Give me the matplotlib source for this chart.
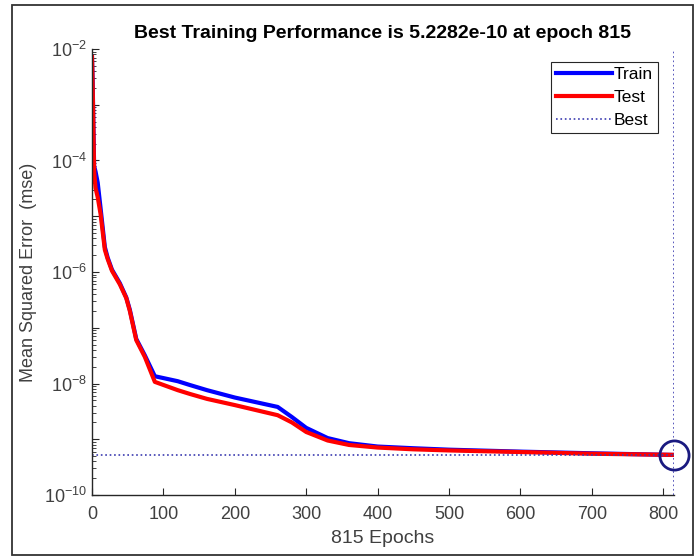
import math
import matplotlib
matplotlib.use("Agg")
import matplotlib.pyplot as plt
from matplotlib.patches import Rectangle
from matplotlib.ticker import LogLocator, FixedLocator, FuncFormatter, NullFormatter

plt.rcParams["font.family"] = ["Liberation Sans", "DejaVu Sans"]
plt.rcParams["mathtext.default"] = "regular"

# training record (mse per epoch, sampled)
epochs = [0, 1, 2, 3, 5, 8, 12, 18, 22, 28, 39, 48, 53, 62, 74, 88, 120, 137,
          161, 200, 260, 280, 300, 330, 360, 400, 450, 500, 600, 700, 815]
train_mse = [7.2e-3, 2.5e-3, 4.0e-4, 7.9e-5, 6.3e-5, 4.0e-5, 1.4e-5, 2.8e-6,
             1.8e-6, 1.1e-6, 6.3e-7, 3.5e-7, 2.1e-7, 6.3e-8, 3.2e-8, 1.35e-8,
             1.1e-8, 9.4e-9, 7.6e-9, 5.6e-9, 3.8e-9, 2.5e-9, 1.6e-9, 1.05e-9,
             8.5e-10, 7.4e-10, 6.9e-10, 6.5e-10, 6.0e-10, 5.6e-10, 5.2282e-10]
test_mse = [7.2e-3, 2.0e-3, 3.2e-4, 6.3e-5, 3.2e-5, 2.2e-5, 1.1e-5, 2.5e-6,
            1.7e-6, 1.05e-6, 6.0e-7, 3.4e-7, 2.0e-7, 6.0e-8, 3.0e-8, 1.07e-8,
            7.6e-9, 6.5e-9, 5.3e-9, 4.1e-9, 2.7e-9, 2.0e-9, 1.35e-9, 9.5e-10,
            7.9e-10, 7.1e-10, 6.6e-10, 6.3e-10, 5.9e-10, 5.5e-10, 5.25e-10]

best_epoch = 815
best_perf = 5.2282e-10
x_ticks = [0, 100, 200, 300, 400, 500, 600, 700, 800]
y_labeled = [1e-10, 1e-8, 1e-6, 1e-4, 1e-2]

fig = plt.figure(figsize=(6.99, 5.56), dpi=100)
ax = fig.add_axes([0.1316, 0.1097, 0.8326, 0.8022])

# frame round the whole figure
fig.patches.append(Rectangle((0.017, 0.002), 0.974, 0.989, transform=fig.transFigure,
                             fill=False, edgecolor="#333333", linewidth=1.3))

ax.plot(epochs, train_mse, color="#0000ff", linewidth=3, label="Train")
ax.plot(epochs, test_mse, color="#ff0000", linewidth=3, label="Test")
ax.axhline(best_perf, color="#3b3bb0", linestyle=":", linewidth=1.2, label="Best")
ax.axvline(best_epoch, color="#3b3bb0", linestyle=":", linewidth=1.2)
ax.plot([best_epoch], [best_perf], "o", markersize=21, markerfacecolor="none",
        markeredgecolor="#1a1a80", markeredgewidth=2, clip_on=False, zorder=5)

ax.set_yscale("log")
ax.set_xlim(0, 815)
ax.set_ylim(1e-10, 1e-2)

ax.xaxis.set_major_locator(FixedLocator(x_ticks))
ax.yaxis.set_major_locator(LogLocator(base=10, numticks=20))
ax.yaxis.set_minor_locator(LogLocator(base=10, subs=range(2, 10), numticks=100))
ax.yaxis.set_minor_formatter(NullFormatter())


def decade_label(v, pos):
    # only every second decade carries a label
    for t in y_labeled:
        if abs(v / t - 1) < 1e-6:
            return "$10^{%d}$" % round(math.log10(t))
    return ""


ax.yaxis.set_major_formatter(FuncFormatter(decade_label))

for side in ("top", "right"):
    ax.spines[side].set_visible(False)
for side in ("left", "bottom"):
    ax.spines[side].set_color("#262626")
    ax.spines[side].set_linewidth(1.0)

ax.tick_params(axis="both", which="major", direction="in", length=5, width=0.8,
               colors="#262626", labelsize=13, labelcolor="#404040")
ax.tick_params(axis="y", which="minor", direction="in", length=3, width=0.6,
               colors="#262626")
ax.tick_params(axis="x", pad=8)

ax.set_title("Best Training Performance is 5.2282e-10 at epoch 815",
             fontsize=14, fontweight="bold", pad=8)
ax.set_xlabel("815 Epochs", fontsize=14, color="#404040", labelpad=5)
ax.set_ylabel("Mean Squared Error  (mse)", fontsize=13, color="#404040", labelpad=5)

leg = ax.legend(loc="upper right", bbox_to_anchor=(0.972, 0.971), fontsize=12.5,
                fancybox=False, edgecolor="#262626", framealpha=1,
                handlelength=3.2, handletextpad=0.1, borderpad=0.3,
                labelspacing=0.45, borderaxespad=0)
leg.get_frame().set_linewidth(0.8)

fig.savefig("out.png", dpi=100)
